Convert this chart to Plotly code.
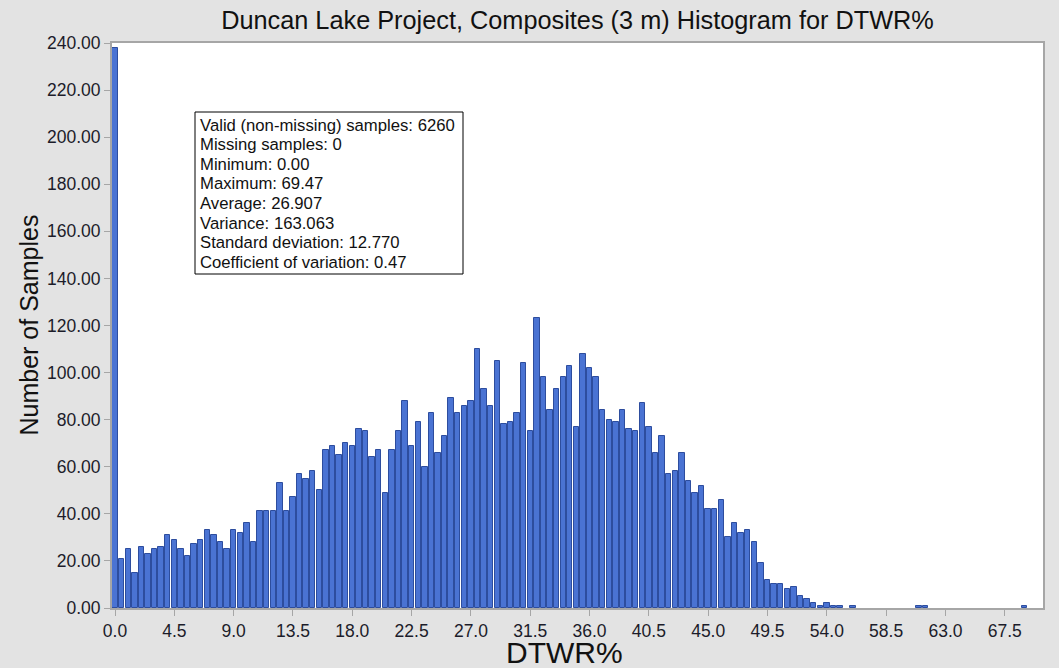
import plotly.graph_objects as go

# Histogram of DTWR% composites, bin width 0.5 starting at 0.0
bin_start = 0.0
bin_width = 0.5
counts = [238,
          21, 25, 15, 26, 23, 25, 26, 31, 29, 25,
          22, 27, 29, 33, 31, 28, 25, 33, 32, 36,
          28, 41, 41, 41, 53, 41, 47, 57, 55, 58,
          50, 67, 69, 65, 70, 69, 76, 75, 64, 67,
          49, 67, 75, 88, 69, 79, 60, 83, 66, 73,
          89, 83, 86, 88, 110, 93, 86, 105, 78, 79,
          83, 104, 75, 123, 98, 84, 93, 98, 103, 77,
          108, 102, 98, 84, 80, 79, 84, 76, 75, 87,
          77, 66, 73, 57, 58, 66, 54, 49, 52, 42,
          42, 46, 30, 36, 32, 33, 28, 19, 12, 10,
          10, 8, 9, 5, 4, 2, 1, 2, 1, 1,
          0, 1, 0, 0, 0, 0, 0, 0, 0, 0,
          0, 1, 1, 0, 0, 0, 0, 0, 0, 0,
          0, 0, 0, 0, 0, 0, 0, 1]

title_text = "Duncan Lake Project, Composites (3 m) Histogram for DTWR%"
x_title = "DTWR%"
y_title = "Number of Samples"
stats_lines = [
    "Valid (non-missing) samples: 6260",
    "Missing samples: 0",
    "Minimum: 0.00",
    "Maximum: 69.47",
    "Average: 26.907",
    "Variance: 163.063",
    "Standard deviation: 12.770",
    "Coefficient of variation: 0.47",
]

FONT = "Liberation Sans, Arial, sans-serif"
W, H = 1059, 668
L, R, T, B = 112, 16, 43, 60
pw, ph = W - L - R, H - T - B


def px_x(x):
    return (x - L) / pw


def px_y(y):
    return (H - B - y) / ph


# no outline on empty bins
outline_widths = [1 if c > 0 else 0 for c in counts]

fig = go.Figure()
fig.add_trace(go.Bar(
    x0=bin_start, dx=bin_width, y=counts, width=0.41,
    marker=dict(color="#4a73d3",
                line=dict(color="#2d4d9e", width=outline_widths)),
    showlegend=False,
))

fig.update_layout(
    width=W, height=H,
    margin=dict(l=L, r=R, t=T, b=B, pad=0),
    paper_bgcolor="#e3e3e3",
    plot_bgcolor="#ffffff",
    font=dict(family=FONT, color="#1c1c2a", size=17.5),
    bargap=0,
    title=dict(text=title_text, x=0.5, xref="paper", xanchor="center",
               y=1 - 20 / H, yref="container", yanchor="middle",
               font=dict(size=25.3, color="#111111", family=FONT)),
    xaxis=dict(range=[-0.23, 70.4], tick0=0, dtick=4.5, tickformat=".1f",
               showgrid=False, zeroline=False, showline=True, mirror=True,
               linecolor="#a6a6a6", linewidth=2, ticks="outside", ticklen=6,
               tickcolor="#a6a6a6", tickfont=dict(size=17.5)),
    yaxis=dict(range=[0, 240], tick0=0, dtick=20, tickformat=".2f",
               showgrid=False, zeroline=False, showline=True, mirror=True,
               linecolor="#a6a6a6", linewidth=2, ticks="outside", ticklen=6,
               tickcolor="#a6a6a6", tickfont=dict(size=17.5)),
)

fig.add_annotation(text=y_title, xref="paper", yref="paper",
                   x=px_x(28), y=0.5, textangle=-90, showarrow=False,
                   xanchor="center", yanchor="middle",
                   font=dict(size=25, color="#111111", family=FONT))
fig.add_annotation(text=x_title, xref="paper", yref="paper",
                   x=px_x(564), y=px_y(652), showarrow=False,
                   xanchor="center", yanchor="middle",
                   font=dict(size=30, color="#111111", family=FONT))

# statistics box
fig.add_shape(type="rect", xref="paper", yref="paper",
              x0=px_x(195), x1=px_x(463), y0=px_y(274), y1=px_y(112),
              line=dict(color="#000000", width=1), fillcolor="#ffffff",
              layer="above")
for i, line in enumerate(stats_lines):
    fig.add_annotation(text=line, xref="paper", yref="paper",
                       x=px_x(198), y=px_y(125 + 19.6 * i), showarrow=False,
                       xanchor="left", yanchor="middle", align="left",
                       font=dict(size=16.7, color="#111111", family=FONT))

fig.write_html(
    "out.html",
    config={"displayModeBar": False},
    post_script="document.body.style.margin='0px';"
                "document.body.style.background='#e3e3e3';",
)
